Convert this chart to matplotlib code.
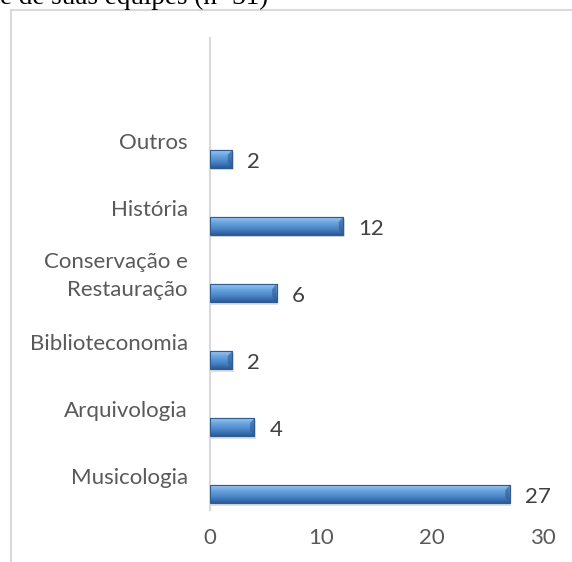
import numpy as np
import matplotlib.pyplot as plt
from matplotlib.lines import Line2D
from matplotlib.colors import LinearSegmentedColormap

# data
categorias = ['Musicologia', 'Arquivologia', 'Biblioteconomia',
              'Conservação e\nRestauração', 'História', 'Outros']
valores = [27, 4, 2, 6, 12, 2]
xticks = [0, 10, 20, 30]

W, H = 572, 562
fig = plt.figure(figsize=(W / 100, H / 100), dpi=100)
fig.patch.set_facecolor('white')

# frame of the chart area (only top and left visible)
fig.add_artist(Line2D([11 / W, 11 / W], [1 - 10 / H, 0], color='#d9d9d9', lw=1.5))
fig.add_artist(Line2D([11 / W, 1], [1 - 10 / H, 1 - 10 / H], color='#d9d9d9', lw=1.5))

# cut-off caption text at top
fig.text(0.0, 1 - 4 / H, 'e de suas equipes (n=31)', family='Liberation Serif',
         fontsize=19.5, va='baseline', ha='left', color='black')

ax = fig.add_axes([210 / W, 1 - 510 / H, 333 / W, 472 / H])
pos = np.arange(len(categorias))
bar_h = 0.27

grad = LinearSegmentedColormap.from_list('bev', ['#a6cbf2', '#6aa5e0', '#4a86c8', '#2b5a97'])
gimg = np.linspace(0, 1, 64).reshape(-1, 1)

# shadow
ax.barh(pos - 0.04, valores, height=bar_h, left=0.12, color='#000000', alpha=0.12, zorder=1)
bars = ax.barh(pos, valores, height=bar_h, color='#4a86c8', edgecolor='#2f5b93',
               linewidth=0.8, zorder=2)
for b in bars:
    x0, y0 = b.get_x(), b.get_y()
    w, h = b.get_width(), b.get_height()
    im = ax.imshow(gimg, cmap=grad, aspect='auto', extent=[x0, x0 + w, y0, y0 + h],
                   zorder=3, interpolation='bicubic')
    im.set_clip_path(b)
    # bevel end caps
    cap = 0.4
    ax.fill([x0 + w - cap, x0 + w, x0 + w, x0 + w - cap],
            [y0 + h * 0.3, y0, y0 + h, y0 + h * 0.7], color='#2f5b93', alpha=0.6, zorder=4, lw=0)
    ax.add_patch(plt.Rectangle((x0, y0), w, h, fill=False, edgecolor='#2f5b93', lw=0.8, zorder=5))

for p, v in zip(pos, valores):
    ax.text(v + 1.35, p - 0.05, str(v), va='center', ha='left', fontsize=16,
            family='Lato', color='#404040')

# labels sit above their bars (two-line label a bit higher)
lab_off = np.array([0.27, 0.27, 0.27, 0.34, 0.27, 0.27])

ax.set_xlim(0, 30)
ax.set_ylim(-0.24, 6.8)
ax.set_xticks(xticks)
ax.set_xticklabels([str(t) for t in xticks], family='Lato', fontsize=16, color='#595959')
ax.set_yticks(pos + lab_off)
ax.set_yticklabels(categorias, family='Lato', fontsize=16, color='#595959',
                   ha='right', linespacing=1.5)
ax.tick_params(axis='both', length=0)
ax.tick_params(axis='x', pad=13)
ax.tick_params(axis='y', pad=16)
for s in ['top', 'right', 'bottom']:
    ax.spines[s].set_visible(False)
ax.spines['left'].set_color('#d9d9d9')
ax.spines['left'].set_linewidth(1.5)
ax.set_facecolor('none')

fig.savefig('out.png', dpi=100)
